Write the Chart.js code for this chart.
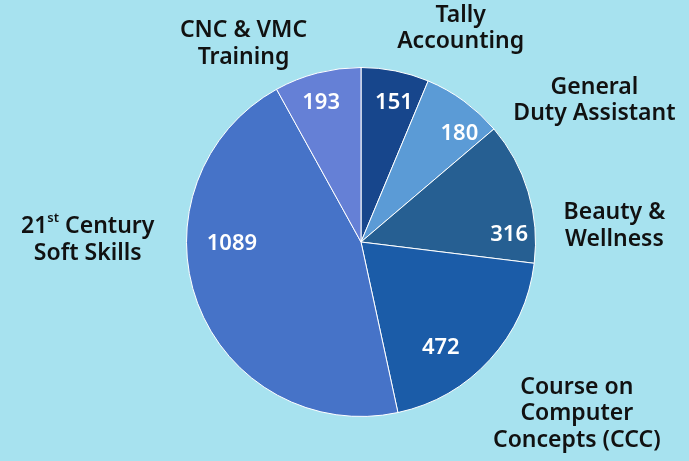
<!DOCTYPE html>
<html>
<head>
<meta charset="utf-8">
<script src="https://cdn.jsdelivr.net/npm/chart.js@4/dist/chart.umd.min.js"></script>
<style>
  html, body { margin: 0; padding: 0; background: #a7e2ef; }
  #box { width: 689px; height: 461px; }
</style>
</head>
<body>
<div id="box"><canvas id="pie"></canvas></div>
<script>
// courses, going clockwise from 12 o'clock
const courses = [
    ["Tally", "Accounting"],
    ["General", "Duty Assistant"],
    ["Beauty &", "Wellness"],
    ["Course on", "Computer", "Concepts (CCC)"],
    ["21{st} Century", "Soft Skills"],
    ["CNC & VMC", "Training"]
];
const enrolled = [151, 180, 316, 472, 1089, 193];
const sliceColors = ['#17468c', '#5b9bd6', '#265f92', '#1b5ca8', '#4673c8', '#6580d6'];

// label placement, relative to the middle of each slice (degrees, fraction of radius)
const valuePos = [[2, 0.82], [6, 0.84], [14, 0.85], [10.6, 0.76], [19.6, 0.74], [-1.5, 0.83]];
const namePos = [[13.7, 1.35], [22.6, 1.565], [13.1, 1.455], [-3.9, 1.58], [21, 1.566], [-16.2, 1.32]];

const FONT = '"Noto Sans", sans-serif';

function drawLine(ctx, text, x, y, size) {
    // handles "{st}" superscript markup
    let parts = [];
    let re = /\{([^}]*)\}/g, last = 0, m;
    while ((m = re.exec(text)) !== null) {
        parts.push({t: text.slice(last, m.index), sup: false});
        parts.push({t: m[1], sup: true});
        last = re.lastIndex;
    }
    parts.push({t: text.slice(last), sup: false});
    let big = '600 ' + size + 'px ' + FONT;
    let small = '600 ' + Math.round(size * 0.55) + 'px ' + FONT;
    let total = 0;
    parts.forEach(p => { ctx.font = p.sup ? small : big; p.w = ctx.measureText(p.t).width; total += p.w; });
    let cx = x - total / 2;
    ctx.textAlign = 'left';
    parts.forEach(p => {
        ctx.font = p.sup ? small : big;
        ctx.textBaseline = 'middle';
        ctx.fillText(p.t, cx, p.sup ? y - size * 0.38 : y);
        cx += p.w;
    });
}

const labelPlugin = {
    id: 'sliceLabels',
    afterDatasetsDraw(chart) {
        const ctx = chart.ctx;
        const meta = chart.getDatasetMeta(0);
        ctx.save();
        meta.data.forEach((arc, i) => {
            let mid = (arc.startAngle + arc.endAngle) / 2;
            let r = arc.outerRadius;
            // value inside
            let a = mid + valuePos[i][0] * Math.PI / 180;
            let vx = arc.x + Math.cos(a) * r * valuePos[i][1];
            let vy = arc.y + Math.sin(a) * r * valuePos[i][1];
            ctx.fillStyle = '#ffffff';
            drawLine(ctx, String(enrolled[i]), vx, vy, 22);
            // course name outside
            let b = mid + namePos[i][0] * Math.PI / 180;
            let nx = arc.x + Math.cos(b) * r * namePos[i][1];
            let ny = arc.y + Math.sin(b) * r * namePos[i][1];
            let lines = courses[i];
            let lh = 26.5;
            ctx.fillStyle = '#111111';
            lines.forEach((ln, k) => {
                drawLine(ctx, ln, nx, ny + (k - (lines.length - 1) / 2) * lh, 23);
            });
        });
        ctx.restore();
    }
};

new Chart(document.getElementById('pie'), {
    type: 'pie',
    data: {
        labels: courses.map(c => c.join(' ')),
        datasets: [{
            data: enrolled,
            backgroundColor: sliceColors,
            borderColor: '#ffffff',
            borderWidth: 1
        }]
    },
    options: {
        responsive: true,
        maintainAspectRatio: false,
        animation: false,
        layout: {
            padding: {left: 186, right: 153, top: 67, bottom: 44}
        },
        plugins: {
            legend: { display: false },
            tooltip: { enabled: false }
        }
    },
    plugins: [labelPlugin]
});
</script>
</body>
</html>
